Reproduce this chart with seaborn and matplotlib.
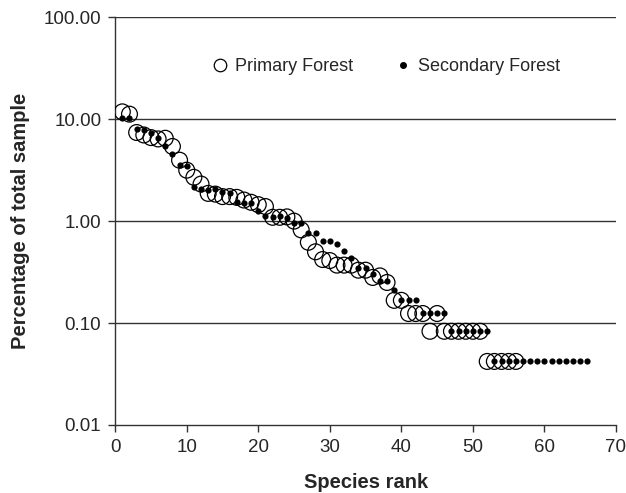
import matplotlib
matplotlib.use("Agg")
import matplotlib.pyplot as plt
import seaborn as sns
import pandas as pd
from matplotlib.ticker import FixedLocator, FuncFormatter, NullLocator
from matplotlib.lines import Line2D

# percentage of total sample by species rank
primary_pct = [11.8, 11.2, 7.4, 7.0, 6.6, 6.4, 6.5, 5.4, 3.96, 3.16,
               2.69, 2.31, 1.87, 1.84, 1.74, 1.74, 1.71, 1.61, 1.53, 1.45,
               1.39, 1.09, 1.09, 1.10, 1.00, 0.82, 0.62, 0.50, 0.42, 0.41,
               0.37, 0.37, 0.37, 0.33, 0.33, 0.28, 0.29, 0.25, 0.167, 0.167,
               0.124, 0.124, 0.124, 0.083, 0.124, 0.083, 0.083, 0.083, 0.083, 0.083,
               0.083, 0.042, 0.042, 0.042, 0.042, 0.042]
secondary_pct = [10.3, 10.2, 8.1, 7.85, 7.4, 6.6, 5.4, 4.6, 3.54, 3.44,
                 2.17, 2.06, 2.04, 2.06, 1.91, 1.88, 1.53, 1.50, 1.51, 1.25,
                 1.13, 1.10, 1.13, 1.07, 0.96, 0.95, 0.77, 0.77, 0.64, 0.64,
                 0.60, 0.51, 0.43, 0.35, 0.35, 0.30, 0.26, 0.26, 0.21, 0.17,
                 0.17, 0.17, 0.125, 0.125, 0.125, 0.125, 0.083, 0.083, 0.083, 0.083,
                 0.083, 0.083] + [0.042] * 14
primary_rank = list(range(1, len(primary_pct) + 1))
secondary_rank = list(range(1, len(secondary_pct) + 1))
y_ticks = [0.01, 0.1, 1, 10, 100]

primary = pd.DataFrame({"rank": primary_rank, "pct": primary_pct})
secondary = pd.DataFrame({"rank": secondary_rank, "pct": secondary_pct})

sns.set_style("white")
plt.rcParams['font.family'] = ['Liberation Sans', 'DejaVu Sans']

fig = plt.figure(figsize=(6.26, 4.93), dpi=100)
ax = fig.add_axes([0.184, 0.138, 0.800, 0.827])

sns.scatterplot(data=primary, x="rank", y="pct", ax=ax, marker="o", s=130,
                facecolor="none", edgecolor="black", linewidth=0.9, zorder=3)
sns.scatterplot(data=secondary, x="rank", y="pct", ax=ax, marker="o", s=20,
                color="black", edgecolor="black", linewidth=0, zorder=4)

ax.set_yscale("log")
ax.set_ylim(0.01, 100)
ax.set_xlim(0, 70)
ax.set_xticks(range(0, 71, 10))
ax.yaxis.set_major_locator(FixedLocator(y_ticks))
ax.yaxis.set_minor_locator(NullLocator())
ax.yaxis.set_major_formatter(FuncFormatter(lambda v, p: f"{v:.2f}"))

for v in [0.1, 1, 10, 100]:
    ax.axhline(v, color="#333333", lw=1.0, zorder=1)

for side in ["top", "right"]:
    ax.spines[side].set_visible(False)
for side in ["left", "bottom"]:
    ax.spines[side].set_color("#333333")
    ax.spines[side].set_linewidth(1.0)

ax.tick_params(axis="both", direction="out", length=5, width=1, color="#333333",
               labelsize=13.5, pad=5, left=True, bottom=True)

ax.set_xlabel("Species rank", fontsize=14.5, fontweight="bold", labelpad=12)
ax.set_ylabel("Percentage of total sample", fontsize=14.5, fontweight="bold", labelpad=10)

handles = [
    Line2D([], [], marker="o", linestyle="none", markerfacecolor="none",
           markeredgecolor="black", markersize=9, markeredgewidth=0.9),
    Line2D([], [], marker="o", linestyle="none", color="black", markersize=4),
]
ax.legend(handles, ["Primary Forest", "Secondary Forest"], ncol=2, frameon=False,
          loc="upper center", bbox_to_anchor=(0.54, 0.94), fontsize=13,
          columnspacing=2.3, handletextpad=0.3, handlelength=1.0)

fig.savefig("out.png", dpi=100)
